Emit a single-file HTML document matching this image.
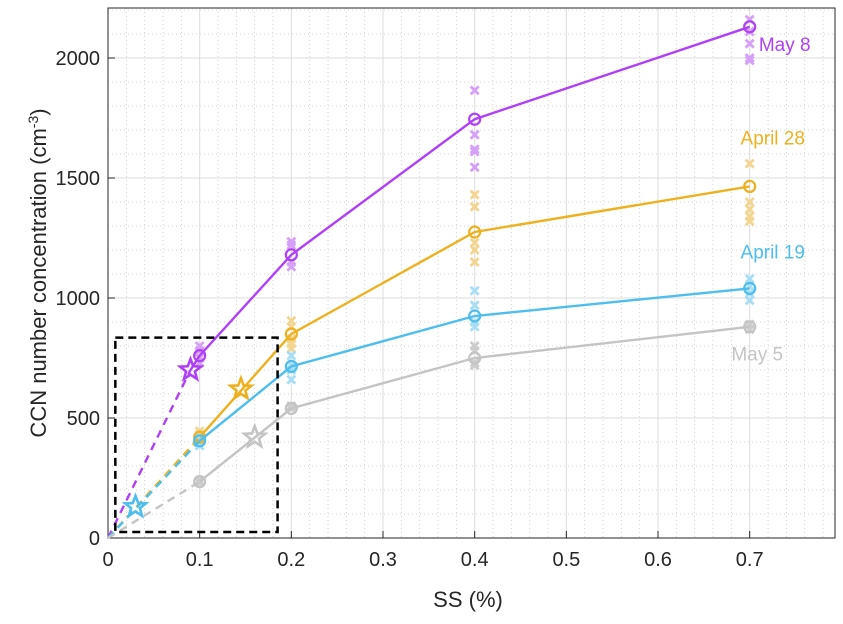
<!DOCTYPE html>
<html><head><meta charset="utf-8"><style>
body{margin:0;background:#fff}
svg{font-family:"Liberation Sans",Arial,sans-serif}
</style></head><body>
<svg id="c" width="843" height="619" xmlns="http://www.w3.org/2000/svg"></svg>
<script>
const xTicks=[0,0.1,0.2,0.3,0.4,0.5,0.6,0.7];
const yTicks=[0,500,1000,1500,2000];
const ssLevels=[0.1,0.2,0.4,0.7];
const seriesNames=["May 8","April 28","April 19","May 5"];
const meanMay8=[760,1180,1745,2130];
const meanApr28=[420,850,1275,1465];
const meanApr19=[405,715,925,1040];
const meanMay5=[235,540,750,880];
const starX=[0.09,0.145,0.03,0.16];
const starY=[700,620,130,420];
const crossMay8=[[800,780,750,730],[1235,1220,1150,1130],[1865,1680,1620,1610,1545],[2160,2110,2060,2000,1990]];
const crossApr28=[[445,430,410],[905,880,830,810,790],[1430,1380,1230,1200,1150],[1560,1400,1370,1340,1320]];
const crossApr19=[[420,400,385],[760,720,700,660],[1030,970,900,880],[1080,1050,1020,990]];
const crossMay5=[[240,230],[550,540],[800,780,730,720],[890,870]];
const labelPos=[[0.71,2030],[0.69,1640],[0.69,1165],[0.68,740]];
const boxX=[0.008,0.185], boxY=[25,835];

const L=108,R=835,T=8,B=538,XMAX=(R-L)/916.7,YMAX=(B-T)/0.24;
const X=v=>L+v/XMAX*(R-L), Y=v=>B-v/YMAX*(B-T);
const svg=document.getElementById('c');const NS="http://www.w3.org/2000/svg";
function mk(t,a,p){const e=document.createElementNS(NS,t);for(const k in a)e.setAttribute(k,a[k]);(p||svg).appendChild(e);return e;}
const colors=["#b040f8","#edb120","#4dbeee","#c4c4c4"];
const light=["#d6a0f8","#f3d590","#a8def5","#cccccc"];
const means=[meanMay8,meanApr28,meanApr19,meanMay5];
const crosses=[crossMay8,crossApr28,crossApr19,crossMay5];
for(let v=0.02;v<XMAX;v+=0.02){if(Math.abs(v*10-Math.round(v*10))<1e-6)continue;const g=mk('line',{x1:X(v),x2:X(v),y1:T,y2:B,stroke:'#c8c8c8','stroke-width':0.8,'stroke-dasharray':'1,3'});}
for(let v=100;v<YMAX;v+=100){if(v%500===0)continue;const g=mk('line',{x1:L,x2:R,y1:Y(v),y2:Y(v),stroke:'#c8c8c8','stroke-width':0.8,'stroke-dasharray':'1,3'});}
xTicks.forEach(v=>{const g=mk('line',{x1:X(v),x2:X(v),y1:T,y2:B,stroke:'#dcdcdc','stroke-width':1});
mk('line',{x1:X(v),x2:X(v),y1:B,y2:B-7,stroke:'#262626'});
const t=mk('text',{x:X(v),y:B+28,'text-anchor':'middle','font-size':20,fill:'#262626'});t.textContent=v;});
yTicks.forEach(v=>{const g=mk('line',{x1:L,x2:R,y1:Y(v),y2:Y(v),stroke:'#dcdcdc','stroke-width':1});
mk('line',{x1:L,x2:L+7,y1:Y(v),y2:Y(v),stroke:'#262626'});
const t=mk('text',{x:L-8,y:Y(v)+7,'text-anchor':'end','font-size':20,fill:'#262626'});t.textContent=v;});
const fr=mk('rect',{x:L,y:T,width:R-L,height:B-T,fill:'none',stroke:'#262626','stroke-width':1});
crosses.forEach((cs,i)=>cs.forEach((arr,j)=>arr.forEach(v=>{const cx=X(ssLevels[j]),cy=Y(v);
const p=mk('path',{d:`M${cx-4},${cy-4}L${cx+4},${cy+4}M${cx-4},${cy+4}L${cx+4},${cy-4}`,stroke:light[i],'stroke-width':2.8});})));
function star(cx,cy,r,col){let d='';for(let k=0;k<10;k++){const a=-Math.PI/2+k*Math.PI/5,rr=k%2?r*0.42:r;d+=(k?'L':'M')+(cx+rr*Math.cos(a))+','+(cy+rr*Math.sin(a));}return mk('path',{d:d+'Z',fill:'none',stroke:col,'stroke-width':2.6});}
means.forEach((m,i)=>{const c=colors[i];
const dashEnd=i===0?[starX[0],starY[0]]:[ssLevels[0],m[0]];
const d=mk('line',{x1:X(0),y1:Y(0),x2:X(dashEnd[0]),y2:Y(dashEnd[1]),stroke:c,'stroke-width':2.4,'stroke-dasharray':'8,6'});
let pts=ssLevels.map((s,j)=>X(s)+','+Y(m[j]));if(i===0)pts.unshift(X(starX[0])+','+Y(starY[0]));
const pl=mk('polyline',{points:pts.join(' '),fill:'none',stroke:c,'stroke-width':2.4});
m.forEach((v,j)=>{const ci=mk('circle',{cx:X(ssLevels[j]),cy:Y(v),r:5.5,fill:'none',stroke:c,'stroke-width':2.2});});
const s=star(X(starX[i]),Y(starY[i]),11,c);
const t=mk('text',{x:X(labelPos[i][0]),y:Y(labelPos[i][1]),'font-size':19,fill:c});t.textContent=seriesNames[i];});
const bx=mk('rect',{x:X(boxX[0]),y:Y(boxY[1]),width:X(boxX[1])-X(boxX[0]),height:Y(boxY[0])-Y(boxY[1]),fill:'none',stroke:'#000','stroke-width':2.5,'stroke-dasharray':'8,5'});
const xt=mk('text',{x:468,y:607,'text-anchor':'middle','font-size':22,fill:'#262626'});xt.textContent='SS (%)';
const yt=mk('text',{x:0,y:0,'text-anchor':'middle','font-size':22,fill:'#262626',transform:'translate(46,273) rotate(-90)'});yt.innerHTML='CCN number concentration (cm<tspan font-size="14" dy="-8">-3</tspan><tspan dy="8">)</tspan>';
</script>
</body></html>
